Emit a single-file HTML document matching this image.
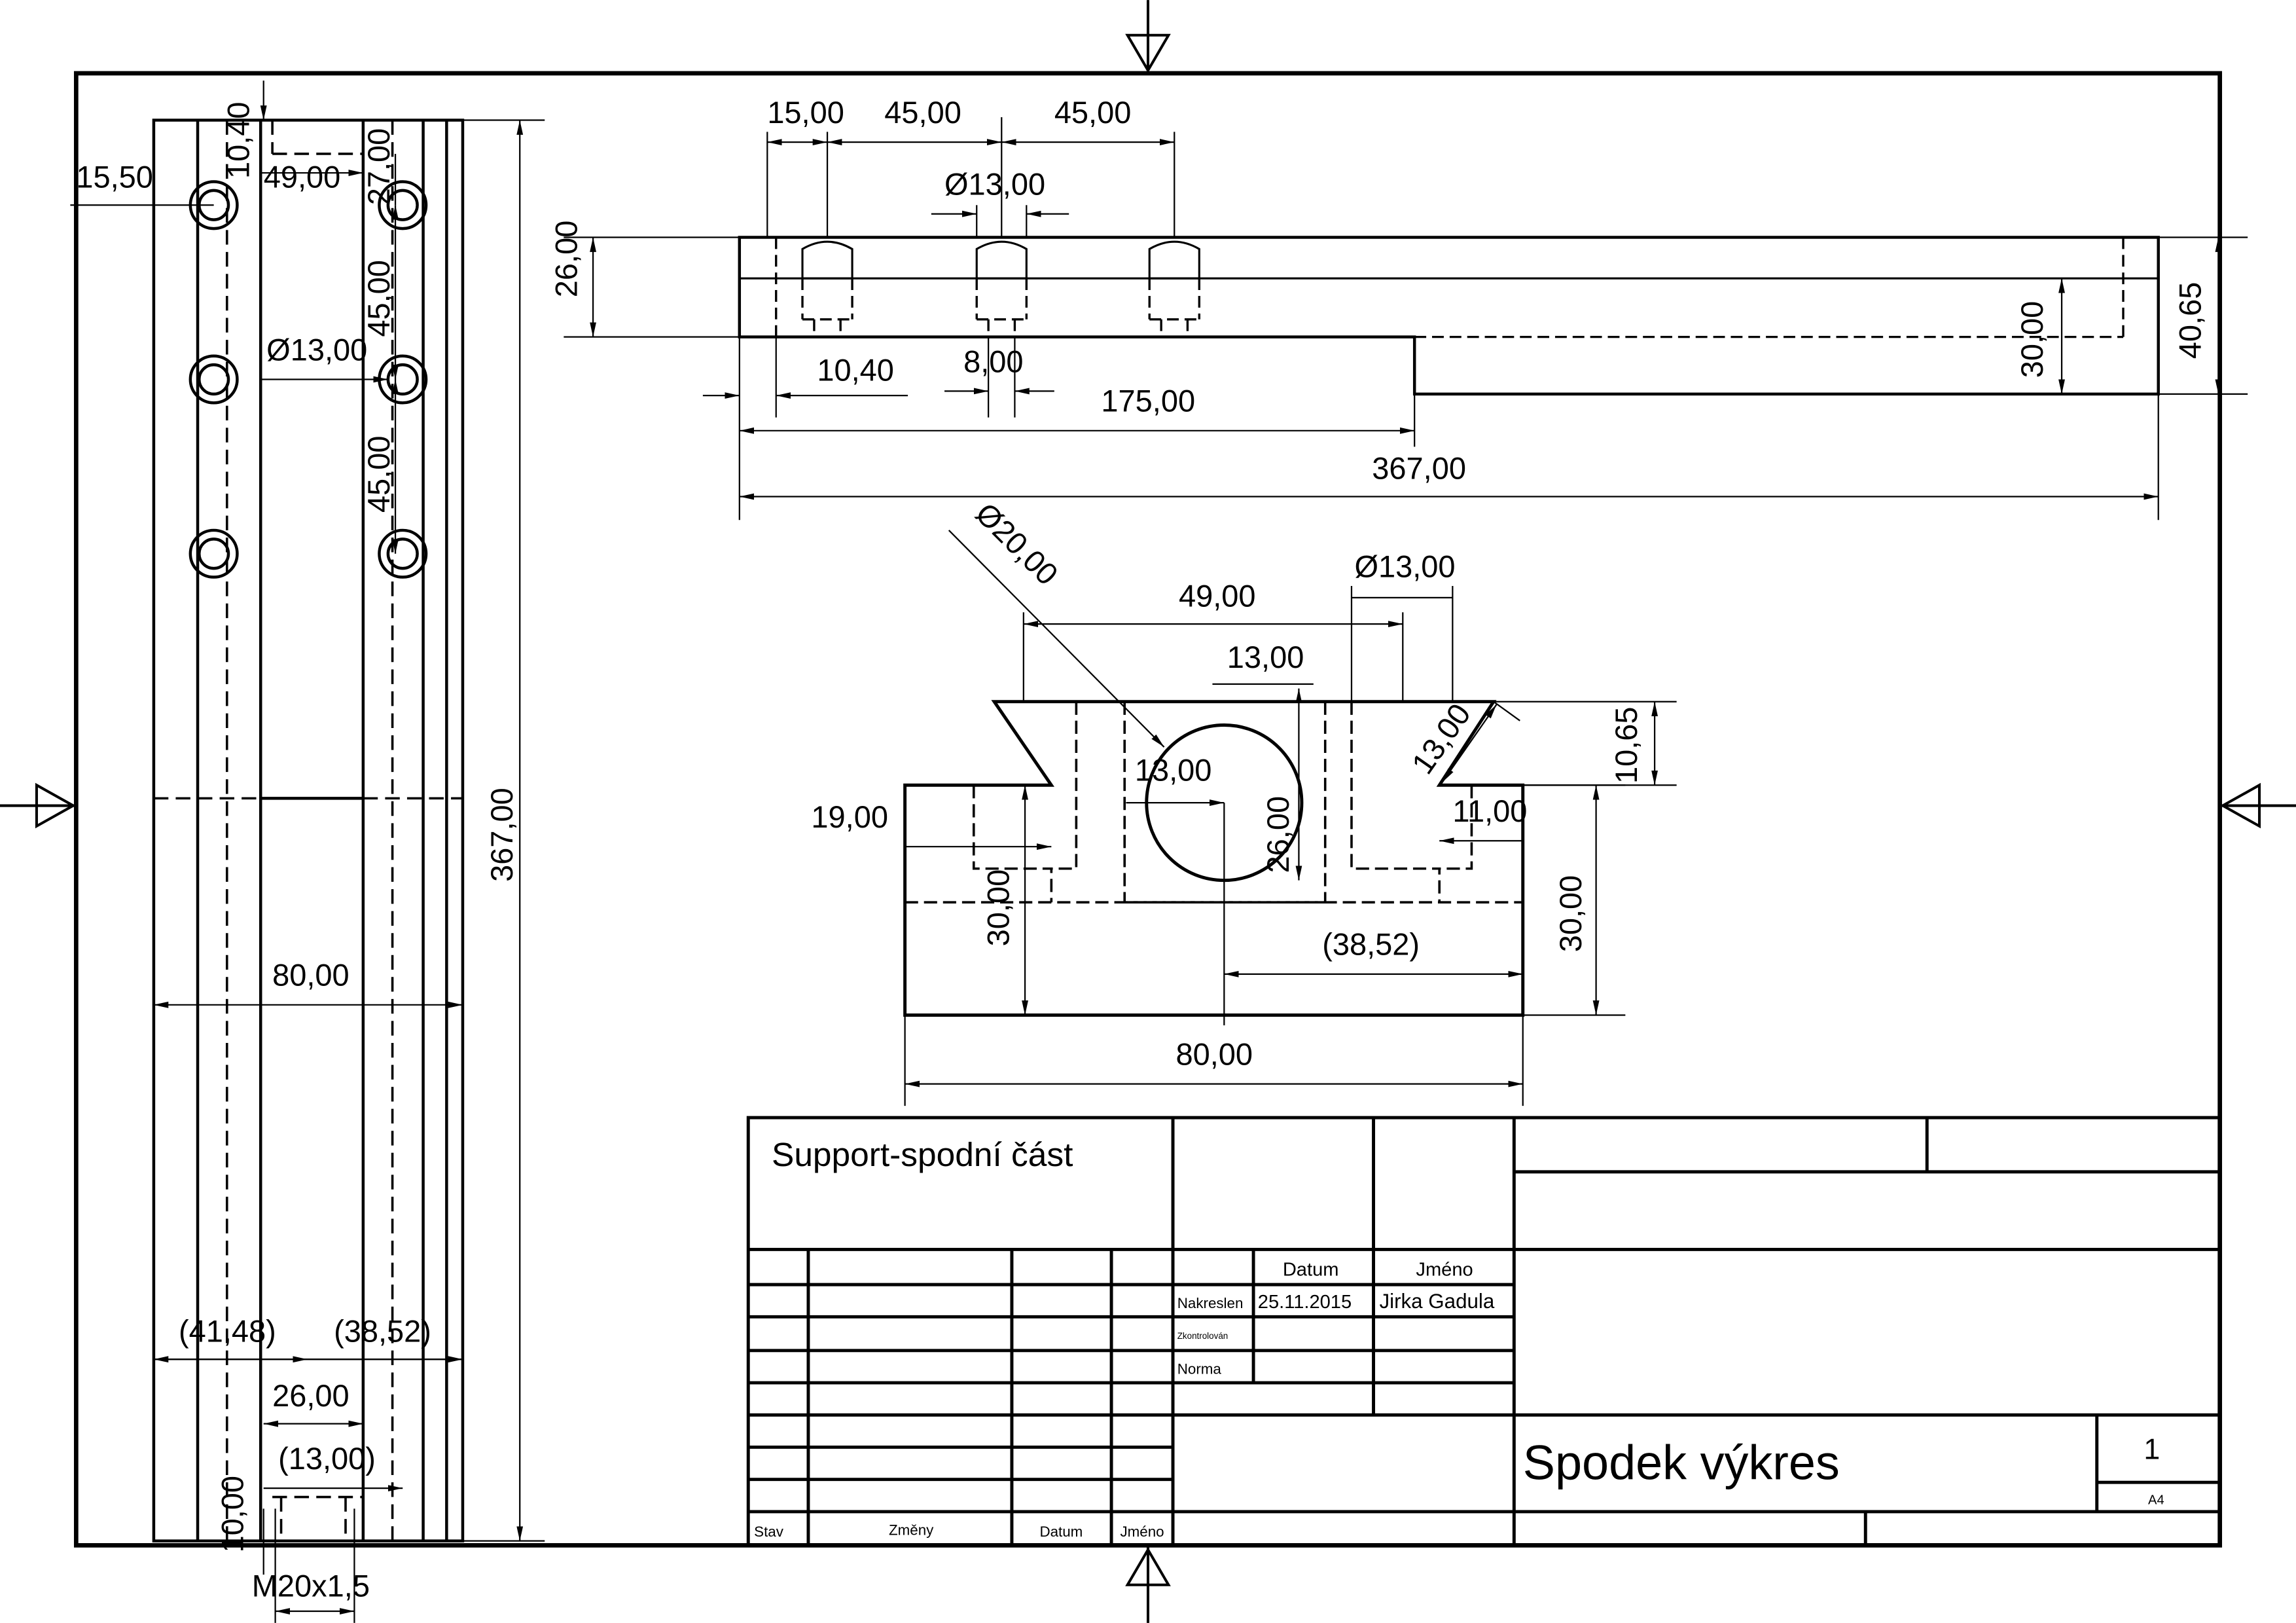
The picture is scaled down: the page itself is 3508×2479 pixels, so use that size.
<!DOCTYPE html>
<html><head><meta charset="utf-8"><style>
html,body{margin:0;padding:0;background:#fff}
svg{display:block}
text{font-family:"Liberation Sans","DejaVu Sans",sans-serif;fill:#000}
</style></head><body>
<svg width="3508" height="2479" viewBox="0 0 1568 1108" xmlns="http://www.w3.org/2000/svg">
<defs>
<marker id="a" viewBox="0 0 10 6" refX="10" refY="3" markerWidth="10" markerHeight="6" markerUnits="userSpaceOnUse" orient="auto-start-reverse"><path d="M0,0.8L10,3L0,5.2z"/></marker>
</defs>
<g fill="none" stroke="#000">
<!-- border -->
<rect x="52" y="50" width="1464" height="1005" stroke-width="3"/>
<g stroke-width="1.8">
<line x1="784" y1="0" x2="784" y2="50"/><path d="M770,24L798,24L784,48z"/>
<line x1="784" y1="1055" x2="784" y2="1108"/><path d="M770,1082L798,1082L784,1058z"/>
<line x1="0" y1="550" x2="52" y2="550"/><path d="M25,536L25,564L50,550z"/>
<line x1="1516" y1="550" x2="1568" y2="550"/><path d="M1543,536L1543,564L1518,550z"/>
</g>

<!-- LEFT VIEW -->
<g stroke-width="2">
<rect x="105" y="82" width="211" height="970"/>
<line x1="135" y1="82" x2="135" y2="1052"/>
<line x1="178" y1="82" x2="178" y2="1052"/>
<line x1="248" y1="82" x2="248" y2="1052"/>
<line x1="289" y1="82" x2="289" y2="1052"/>
<line x1="305" y1="82" x2="305" y2="1052"/>
<line x1="178" y1="545" x2="248" y2="545"/>
<circle cx="146" cy="140" r="16"/><circle cx="146" cy="140" r="10"/>
<circle cx="146" cy="259" r="16"/><circle cx="146" cy="259" r="10"/>
<circle cx="146" cy="378" r="16"/><circle cx="146" cy="378" r="10"/>
<circle cx="275" cy="140" r="16"/><circle cx="275" cy="140" r="10"/>
<circle cx="275" cy="259" r="16"/><circle cx="275" cy="259" r="10"/>
<circle cx="275" cy="378" r="16"/><circle cx="275" cy="378" r="10"/>
</g>
<g stroke-width="1.6" stroke-dasharray="10,5">
<line x1="155" y1="82" x2="155" y2="1052"/>
<line x1="268" y1="82" x2="268" y2="1052"/>
<line x1="105" y1="545" x2="178" y2="545"/>
<line x1="248" y1="545" x2="316" y2="545"/>
<line x1="186" y1="82" x2="186" y2="105"/><line x1="186" y1="105" x2="248" y2="105"/>
<line x1="186" y1="1022" x2="248" y2="1022"/>
<line x1="192" y1="1022" x2="192" y2="1052"/><line x1="236" y1="1022" x2="236" y2="1052"/>
</g>
<g stroke-width="1">
<line x1="355" y1="82" x2="355" y2="1052" marker-start="url(#a)" marker-end="url(#a)"/>
<line x1="316" y1="82" x2="372" y2="82"/><line x1="316" y1="1052" x2="372" y2="1052"/>
<line x1="105" y1="686" x2="316" y2="686" marker-start="url(#a)" marker-end="url(#a)"/>
<line x1="48" y1="140" x2="146" y2="140"/>
<line x1="180" y1="55" x2="180" y2="82" marker-end="url(#a)"/>
<line x1="178" y1="118" x2="248" y2="118" marker-end="url(#a)"/>
<line x1="270" y1="105" x2="270" y2="140"/>
<line x1="270" y1="140" x2="270" y2="259" marker-start="url(#a)" marker-end="url(#a)"/>
<line x1="270" y1="259" x2="270" y2="378" marker-start="url(#a)" marker-end="url(#a)"/>
<line x1="178" y1="259" x2="265" y2="259" marker-end="url(#a)"/>
<line x1="105" y1="928" x2="316" y2="928"/>
<line x1="105" y1="928" x2="210" y2="928" marker-start="url(#a)" marker-end="url(#a)"/>
<line x1="210" y1="928" x2="316" y2="928" marker-end="url(#a)"/>
<line x1="180" y1="972" x2="248" y2="972" marker-start="url(#a)" marker-end="url(#a)"/>
<line x1="180" y1="1016" x2="275" y2="1016" marker-end="url(#a)"/>
<line x1="180" y1="1030" x2="180" y2="1075"/>
<line x1="188" y1="1030" x2="188" y2="1108"/><line x1="242" y1="1030" x2="242" y2="1108"/>
<line x1="188" y1="1100" x2="242" y2="1100" marker-start="url(#a)" marker-end="url(#a)"/>
</g>

<!-- TOP RIGHT VIEW -->
<g stroke-width="2">
<path d="M505,162L1474,162L1474,269L966,269L966,230L505,230z"/>
<line x1="505" y1="190" x2="1474" y2="190" stroke-width="1.4"/>
<path d="M548,170Q565,160 582,170L582,190L548,190z" stroke-width="1.4"/>
<path d="M667,170Q684,160 701,170L701,190L667,190z" stroke-width="1.4"/>
<path d="M785,170Q802,160 819,170L819,190L785,190z" stroke-width="1.4"/>
</g>
<g stroke-width="1.5" stroke-dasharray="8,4">
<line x1="530" y1="162" x2="530" y2="230"/>
<line x1="1450" y1="162" x2="1450" y2="230"/>
<line x1="966" y1="230" x2="1450" y2="230"/>
<line x1="548" y1="190" x2="548" y2="218"/><line x1="582" y1="190" x2="582" y2="218"/><line x1="548" y1="218" x2="582" y2="218"/>
<line x1="667" y1="190" x2="667" y2="218"/><line x1="701" y1="190" x2="701" y2="218"/><line x1="667" y1="218" x2="701" y2="218"/>
<line x1="785" y1="190" x2="785" y2="218"/><line x1="819" y1="190" x2="819" y2="218"/><line x1="785" y1="218" x2="819" y2="218"/>
<line x1="556" y1="218" x2="556" y2="230"/><line x1="574" y1="218" x2="574" y2="230"/>
<line x1="675" y1="218" x2="675" y2="230"/><line x1="693" y1="218" x2="693" y2="230"/>
<line x1="793" y1="218" x2="793" y2="230"/><line x1="811" y1="218" x2="811" y2="230"/>
</g>
<g stroke-width="1">
<line x1="524" y1="90" x2="524" y2="162"/><line x1="565" y1="90" x2="565" y2="162"/>
<line x1="684" y1="80" x2="684" y2="162"/><line x1="802" y1="90" x2="802" y2="162"/>
<line x1="524" y1="97" x2="565" y2="97" marker-start="url(#a)" marker-end="url(#a)"/>
<line x1="565" y1="97" x2="684" y2="97" marker-start="url(#a)" marker-end="url(#a)"/>
<line x1="684" y1="97" x2="802" y2="97" marker-start="url(#a)" marker-end="url(#a)"/>
<line x1="636" y1="146" x2="667" y2="146" marker-end="url(#a)"/><line x1="701" y1="146" x2="730" y2="146" marker-start="url(#a)"/>
<line x1="667" y1="140" x2="667" y2="162"/><line x1="701" y1="140" x2="701" y2="162"/>
<line x1="385" y1="162" x2="505" y2="162"/><line x1="385" y1="230" x2="505" y2="230"/>
<line x1="405" y1="162" x2="405" y2="230" marker-start="url(#a)" marker-end="url(#a)"/>
<line x1="1474" y1="162" x2="1535" y2="162"/><line x1="1474" y1="269" x2="1535" y2="269"/>
<line x1="1515" y1="162" x2="1515" y2="269" marker-start="url(#a)" marker-end="url(#a)"/>
<line x1="1408" y1="190" x2="1408" y2="269" marker-start="url(#a)" marker-end="url(#a)"/>
<line x1="505" y1="230" x2="505" y2="355"/><line x1="1474" y1="269" x2="1474" y2="355"/>
<line x1="966" y1="269" x2="966" y2="305"/><line x1="530" y1="230" x2="530" y2="285"/>
<line x1="480" y1="270" x2="505" y2="270" marker-end="url(#a)"/><line x1="530" y1="270" x2="620" y2="270" marker-start="url(#a)"/>
<line x1="675" y1="230" x2="675" y2="285"/><line x1="693" y1="230" x2="693" y2="285"/>
<line x1="645" y1="267" x2="675" y2="267" marker-end="url(#a)"/><line x1="693" y1="267" x2="720" y2="267" marker-start="url(#a)"/>
<line x1="505" y1="294" x2="966" y2="294" marker-start="url(#a)" marker-end="url(#a)"/>
<line x1="505" y1="339" x2="1474" y2="339" marker-start="url(#a)" marker-end="url(#a)"/>
</g>

<!-- FRONT VIEW -->
<g stroke-width="2.2">
<path d="M618,536L718,536L679,479L1020,479L983,536L1040,536L1040,693L618,693z"/>
<circle cx="836" cy="548" r="53"/>
</g>
<g stroke-width="1.6" stroke-dasharray="9,4">
<line x1="618" y1="616" x2="1040" y2="616"/>
<path d="M665,536L665,593L718,593L718,616"/>
<path d="M735,479L735,593L718,593"/>
<path d="M1005,536L1005,593L983,593"/>
<path d="M923,479L923,593L983,593L983,616"/>
<line x1="768" y1="479" x2="768" y2="616"/><line x1="905" y1="479" x2="905" y2="616"/>
<line x1="768" y1="616" x2="905" y2="616"/>
</g>
<g stroke-width="1">
<line x1="648" y1="362" x2="795" y2="510" marker-end="url(#a)"/>
<line x1="699" y1="479" x2="699" y2="418"/><line x1="958" y1="479" x2="958" y2="418"/>
<line x1="699" y1="426" x2="958" y2="426" marker-start="url(#a)" marker-end="url(#a)"/>
<line x1="923" y1="400" x2="923" y2="479"/><line x1="992" y1="400" x2="992" y2="479"/>
<line x1="923" y1="408" x2="992" y2="408"/>
<line x1="828" y1="467" x2="897" y2="467"/>
<line x1="887" y1="470" x2="887" y2="601" marker-start="url(#a)" marker-end="url(#a)"/>
<line x1="769" y1="548" x2="836" y2="548" marker-end="url(#a)"/>
<line x1="836" y1="548" x2="836" y2="700"/>
<line x1="836" y1="665" x2="1040" y2="665" marker-start="url(#a)" marker-end="url(#a)"/>
<line x1="618" y1="578" x2="718" y2="578" marker-end="url(#a)"/>
<line x1="983" y1="574" x2="1040" y2="574" marker-start="url(#a)"/>
<line x1="700" y1="536" x2="700" y2="693" marker-start="url(#a)" marker-end="url(#a)"/>
<line x1="1040" y1="536" x2="1110" y2="536"/><line x1="1040" y1="693" x2="1110" y2="693"/>
<line x1="1090" y1="536" x2="1090" y2="693" marker-start="url(#a)" marker-end="url(#a)"/>
<line x1="1020" y1="479" x2="1145" y2="479"/><line x1="1000" y1="536" x2="1145" y2="536"/>
<line x1="1130" y1="479" x2="1130" y2="536" marker-start="url(#a)" marker-end="url(#a)"/>
<line x1="985" y1="534" x2="1022" y2="481" marker-start="url(#a)" marker-end="url(#a)"/>
<line x1="1020" y1="479" x2="1038" y2="492"/>
<line x1="618" y1="693" x2="618" y2="755"/><line x1="1040" y1="693" x2="1040" y2="755"/>
<line x1="618" y1="740" x2="1040" y2="740" marker-start="url(#a)" marker-end="url(#a)"/>
</g>

<!-- TITLE BLOCK -->
<g stroke-width="2.2">
<rect x="511" y="763" width="1005" height="292"/>
<line x1="801" y1="763" x2="801" y2="1055"/>
<line x1="938" y1="763" x2="938" y2="966"/>
<line x1="1034" y1="763" x2="1034" y2="1055"/>
<line x1="1316" y1="763" x2="1316" y2="800"/>
<line x1="1034" y1="800" x2="1516" y2="800"/>
<line x1="511" y1="853" x2="1516" y2="853"/>
<line x1="552" y1="853" x2="552" y2="1055"/>
<line x1="691" y1="853" x2="691" y2="1055"/>
<line x1="759" y1="853" x2="759" y2="1055"/>
<line x1="856" y1="853" x2="856" y2="944"/>
<line x1="511" y1="877" x2="1034" y2="877"/>
<line x1="511" y1="899" x2="1034" y2="899"/>
<line x1="511" y1="922" x2="1034" y2="922"/>
<line x1="511" y1="944" x2="1034" y2="944"/>
<line x1="511" y1="966" x2="1516" y2="966"/>
<line x1="511" y1="988" x2="801" y2="988"/>
<line x1="511" y1="1010" x2="801" y2="1010"/>
<line x1="511" y1="1032" x2="1516" y2="1032"/>
<line x1="1432" y1="966" x2="1432" y2="1032"/>
<line x1="1432" y1="1012" x2="1516" y2="1012"/>
<line x1="1274" y1="1032" x2="1274" y2="1055"/>
</g>
</g>

<g font-size="21">
<!-- left view texts -->
<text x="52" y="128">15,50</text>
<text x="180" y="128">49,00</text>
<text transform="translate(170,122) rotate(-90)">10,40</text>
<text transform="translate(266,140) rotate(-90)">27,00</text>
<text transform="translate(266,230) rotate(-90)">45,00</text>
<text transform="translate(266,350) rotate(-90)">45,00</text>
<text x="182" y="246">Ø13,00</text>
<text transform="translate(350,602) rotate(-90)">367,00</text>
<text x="186" y="673">80,00</text>
<text x="122" y="916">(41,48)</text>
<text x="228" y="916">(38,52)</text>
<text x="186" y="960">26,00</text>
<text x="190" y="1003">(13,00)</text>
<text transform="translate(166,1060) rotate(-90)">10,00</text>
<text x="172" y="1090">M20x1,5</text>
<!-- top view texts -->
<text x="524" y="84">15,00</text>
<text x="604" y="84">45,00</text>
<text x="720" y="84">45,00</text>
<text x="645" y="133">Ø13,00</text>
<text transform="translate(394,203) rotate(-90)">26,00</text>
<text x="558" y="260">10,40</text>
<text x="658" y="254">8,00</text>
<text x="752" y="281">175,00</text>
<text x="937" y="327">367,00</text>
<text transform="translate(1395,258) rotate(-90)">30,00</text>
<text transform="translate(1503,245) rotate(-90)">40,65</text>
<!-- front view texts -->
<text transform="translate(665,352) rotate(45)">Ø20,00</text>
<text x="805" y="414">49,00</text>
<text x="925" y="394">Ø13,00</text>
<text x="838" y="456">13,00</text>
<text x="775" y="533">13,00</text>
<text transform="translate(880,596) rotate(-90)">26,00</text>
<text transform="translate(975,530) rotate(-55)">13,00</text>
<text x="992" y="561">11,00</text>
<text x="554" y="565">19,00</text>
<text transform="translate(689,646) rotate(-90)">30,00</text>
<text x="903" y="652">(38,52)</text>
<text transform="translate(1080,650) rotate(-90)">30,00</text>
<text transform="translate(1118,535) rotate(-90)">10,65</text>
<text x="803" y="727">80,00</text>
<!-- title block texts -->
<text x="527" y="796" font-size="23">Support-spodní část</text>
<text x="876" y="871" font-size="13">Datum</text>
<text x="967" y="871" font-size="13">Jméno</text>
<text x="804" y="893" font-size="10">Nakreslen</text>
<text x="859" y="893" font-size="13">25.11.2015</text>
<text x="942" y="893" font-size="14">Jirka Gadula</text>
<text x="804" y="914" font-size="6">Zkontrolován</text>
<text x="804" y="938" font-size="10">Norma</text>
<text x="1040" y="1010" font-size="33">Spodek výkres</text>
<text x="1464" y="996" font-size="20">1</text>
<text x="1467" y="1027" font-size="9">A4</text>
<text x="515" y="1049" font-size="10">Stav</text>
<text x="607" y="1048" font-size="10">Změny</text>
<text x="710" y="1049" font-size="10">Datum</text>
<text x="765" y="1049" font-size="10">Jméno</text>
</g>
</svg>
</body></html>
